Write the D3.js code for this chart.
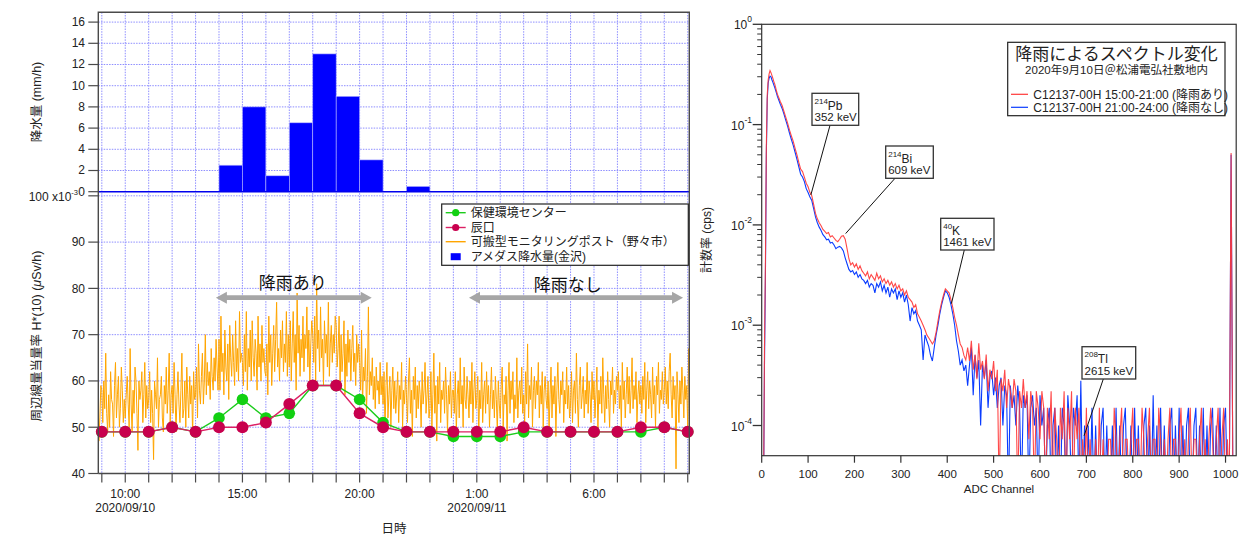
<!DOCTYPE html>
<html><head><meta charset="utf-8">
<script src="https://cdn.jsdelivr.net/npm/d3@7"></script>
<style>
body{margin:0;background:#fff}
svg{display:block;font-family:'Liberation Sans','Noto Sans CJK JP',sans-serif}
</style></head><body>
<svg id="c" width="1239" height="536"></svg>
<script>
// ---------------- DATA ----------------
// hourly precipitation (AMeDAS Kanazawa), bar starts at hour on 2020/09/10
const precipStartHours = [14,15,16,17,18,19,20,21,22];
const precipMm = [2.5,8,1.5,6.5,13,9,3,0,0.5];
// hourly station values (x10^-3 uSv/h), hour offset from 2020/09/10 00:00
const stationHours = [9,10,11,12,13,14,15,16,17,18,19,20,21,22,23,24,25,26,27,28,29,30,31,32,33,34];
const hokenCenter = [49,49,49,50,49,52,56,52,53,59,59,56,51,49,49,48,48,48,49,49,49,49,49,49,50,49];
const tatsunokuchi = [49,49,49,50,49,50,50,51,55,59,59,53,50,49,49,49,49,49,50,49,49,49,49,50,50,49];
// portable monitoring post (Nonoichi), 2.5-minute values from 08:50
const monitorStart = '2020-09-10 08:50';
const monitorStepSec = 150;
const monitorPost = [
55,47,52,59,
58,51,60,54,66,53,49,57,50,62,56,55,48,59,64,52,57,61,50,54,63,58,51,56,
52,57,61,55,50,67,55,49,58,53,63,60,53,45,60,56,58,62,51,57,64,52,59,54,
56,62,51,58,53,43,60,57,54,65,50,56,57,61,52,49,59,55,63,53,58,66,51,57,
59,53,64,57,49,57,62,55,51,58,66,52,54,60,50,63,57,52,61,55,59,48,62,56,
57,63,52,68,58,55,61,66,55,60,70,57,64,59,62,56,67,61,58,65,60,69,63,58,
69,58,74,62,66,57,71,63,60,68,56,72,65,61,70,64,59,73,62,67,60,75,64,66,
64,59,70,62,75,58,67,63,71,60,73,65,61,69,66,58,74,63,68,60,72,64,67,62,
61,68,57,74,64,70,59,66,72,62,69,77,63,67,60,71,65,73,62,68,64,75,61,70,
63,73,60,68,75,64,70,58,79,66,72,61,69,65,74,62,70,67,76,63,71,60,68,73,
70,64,74,60,81,67,71,62,76,65,69,59,73,66,70,63,77,61,68,72,64,70,66,74,
72,63,67,74,58,70,62,66,73,57,68,61,71,64,69,60,67,72,62,66,59,70,64,68,
64,58,71,55,63,60,67,53,61,76,57,62,59,65,56,61,54,63,58,60,55,64,57,61,
55,62,49,59,64,52,57,61,50,58,63,54,60,53,57,62,51,59,56,64,50,58,55,61,
57,51,60,65,53,58,48,61,56,63,52,59,54,60,57,50,62,55,58,64,53,57,61,52,
54,62,50,57,66,53,59,47,61,55,64,51,58,56,60,53,63,57,49,59,55,62,52,58,
58,53,62,49,57,60,52,65,55,59,50,63,56,54,61,57,52,60,55,64,51,58,62,54,
56,61,48,58,54,64,51,57,60,53,62,55,59,50,57,63,54,58,52,61,56,49,60,55,
52,59,63,50,57,55,61,47,58,64,53,60,56,62,51,57,54,65,52,58,60,55,63,53,
57,51,62,55,68,52,59,56,63,50,58,61,54,60,57,64,52,59,55,62,50,58,61,56,
54,60,49,57,63,52,59,55,61,48,58,64,56,53,60,57,62,51,58,55,63,54,59,52,
55,62,51,58,60,53,66,56,50,59,63,54,57,61,52,58,55,64,53,60,57,51,62,56,
60,52,57,63,49,58,55,61,53,65,57,51,59,54,62,56,50,60,57,63,53,58,55,61,
58,62,54,59,50,64,56,60,52,57,63,55,61,53,58,65,54,59,56,62,51,57,60,55,
59,53,61,56,64,51,58,62,54,60,57,52,63,55,59,50,61,57,64,53,58,56,62,55,
58,63,55,60,54,62,66,57,52,61,56,59,41,62,57,51,60,55,63,58,52,61,56,59,
50,67,55
];
const precipTicks = [0,2,4,6,8,10,12,14,16];
const doseTicks = [40,50,60,70,80,90,100];
const timeLabelHours = [10,15,20,25,30];
const timeLabels = ['10:00','15:00','20:00','1:00','6:00'];
const dateLabelHours = [10,25];
const dateLabels = ['2020/09/10','2020/09/11'];
const legendLeft = ['保健環境センター','辰口','可搬型モニタリングポスト（野々市）','アメダス降水量(金沢)'];

// gamma spectra (cps) per ADC channel
const specChannels = [...d3.range(0,41,2), ...d3.range(44,1021,4)];
const specRain = [
0,0,0,6e-4,4e-3,.06,.2,.28,.32,.345,.33,.31,.29,.27,.255,.235,.215,.2,.19,.18,.17,
.155,.135,.118,.103,.088,.077,.068,.058,.05,.042,.036,.034,.030,.026,.024,
.021,.0195,.016,.013,.0115,.0105,.0098,.009,.0086,.0082,.0084,.0076,.0078,.0074,.007,.0068,.0072,.0077,.0078,.0072,.0058,.0046,.004,.0042,.0038,
.0041,.0036,.0039,.0035,.0033,.0031,.0034,.0029,.0032,.003,.0028,.0033,.0029,.0031,.0027,.0029,.0026,.0028,.0025,.0027,.0024,.0026,.0023,.0025,.0022,
.0023,.002,.0022,.0019,.0018,.0017,.0015,.0016,.0013,.0012,.0011,.001,9e-4,8e-4,7.5e-4,7e-4,6.5e-4,7e-4,8.5e-4,.0011,.0014,.0017,.002,.0023,.0022,
.0021,.0018,.0015,.0012,.001,8e-4,6.5e-4,6e-4,5e-4,4.5e-4,6e-4,4.4e-4,7e-4,3.6e-4,5.1e-4,2.9e-4,6.6e-4,3.6e-4,4.4e-4,2.9e-4,5.1e-4,2.2e-4,3.6e-4,2.9e-4,4.4e-4,
2.2e-4,3.6e-4,0,2.9e-4,2.2e-4,3.6e-4,1.5e-4,2.9e-4,2.2e-4,1.5e-4,2.9e-4,2.2e-4,0,2.2e-4,1.5e-4,2.9e-4,1.5e-4,2.2e-4,7.3e-5,2.2e-4,1.5e-4,0,2.2e-4,1.5e-4,7.3e-5,
2.2e-4,1.5e-4,0,1.5e-4,7.3e-5,2.2e-4,0,1.5e-4,7.3e-5,0,1.5e-4,7.3e-5,2.2e-4,0,1.5e-4,7.3e-5,2.2e-4,0,1.5e-4,7.3e-5,1.5e-4,0,7.3e-5,0,1.5e-4,
0,7.3e-5,0,0,7.3e-5,0,1.5e-4,0,7.3e-5,0,0,7.3e-5,7.3e-5,0,1.5e-4,7.3e-5,0,7.3e-5,1.5e-4,0,7.3e-5,7.3e-5,0,7.3e-5,1.5e-4,
0,7.3e-5,7.3e-5,0,1.5e-4,7.3e-5,0,7.3e-5,1.5e-4,0,7.3e-5,7.3e-5,0,1.5e-4,7.3e-5,0,7.3e-5,0,7.3e-5,1.5e-4,0,7.3e-5,7.3e-5,0,7.3e-5,
1.5e-4,0,7.3e-5,0,7.3e-5,1.5e-4,0,7.3e-5,7.3e-5,0,7.3e-5,1.5e-4,0,7.3e-5,0,7.3e-5,1.5e-4,7.3e-5,0,7.3e-5,1.5e-4,0,7.3e-5,1.5e-4,0,
7.3e-5,0,.052,0,0
];
const specDry = [
0,0,0,4e-4,3e-3,.05,.18,.26,.29,.305,.3,.28,.265,.25,.235,.22,.205,.19,.18,.17,.16,
.145,.127,.11,.096,.082,.071,.062,.053,.045,.038,.032,.03,.027,.023,.021,
.019,.0175,.0145,.012,.0105,.0095,.0088,.008,.0076,.0071,.0072,.0066,.0067,.0063,.0058,.006,.0061,.0059,.0055,.0047,.0041,.0036,.0034,.0035,.0032,
.0034,.003,.0032,.0029,.0028,.0026,.0028,.0024,.0026,.0025,.0021,.0026,.0024,.0027,.0022,.0025,.0021,.0024,.0019,.0023,.0021,.0023,.0018,.0022,.0019,
.0021,.0017,.002,.0016,.0011,.0015,.0013,.0014,.0011,.001,9e-4,4.5e-4,8e-4,7e-4,6.2e-4,5e-4,4.4e-4,6e-4,8e-4,.001,.0013,.0016,.0019,.0022,.0021,
.0019,.0016,.0013,.001,7e-4,5.5e-4,4e-4,4.5e-4,3.5e-4,4e-4,2.5e-4,4e-4,6e-4,2e-4,5e-4,3e-4,4.5e-4,1e-4,4e-4,3e-4,4.5e-4,1.5e-4,3e-4,3.5e-4,2e-4,
3e-4,1.5e-4,2.5e-4,3e-4,1e-4,2.5e-4,2e-4,0,2.5e-4,1.5e-4,2e-4,1e-4,2.5e-4,1.5e-4,0,2e-4,1.5e-4,2e-4,0,1.5e-4,2e-4,1e-4,1.5e-4,0,2e-4,
1e-4,1.5e-4,0,1e-4,1.5e-4,0,1e-4,1.5e-4,0,1e-4,0,1.5e-4,1e-4,0,2e-4,1e-4,0,1.5e-4,1e-4,2e-4,0,2.8e-4,0,1e-4,0,
1e-4,0,1.5e-4,0,1e-4,0,0,1e-4,1.5e-4,0,1e-4,0,0,1e-4,0,1.5e-4,0,1e-4,0,1e-4,1.5e-4,0,0,1e-4,0,
1.5e-4,0,1e-4,0,0,1e-4,1.5e-4,0,1e-4,0,2e-4,0,1e-4,0,1.5e-4,0,1e-4,0,0,1e-4,1.5e-4,0,1e-4,0,1.5e-4,
0,1e-4,0,1e-4,1.5e-4,0,0,1e-4,1.5e-4,0,1e-4,0,1.5e-4,0,1e-4,0,1e-4,1.5e-4,0,1e-4,0,1.5e-4,0,1e-4,1.5e-4,
0,0,.05,0,0
];
const specXTicks = [0,100,200,300,400,500,600,700,800,900,1000];
const specYDecades = [-4,-3,-2,-1,0];
const peakLabels = [
  {iso:'214', el:'Pb', energy:'352 keV', ch:106, cps:0.0199},
  {iso:'214', el:'Bi', energy:'609 keV', ch:181, cps:0.0082},
  {iso:'40',  el:'K',  energy:'1461 keV', ch:409, cps:0.00164},
  {iso:'208', el:'Tl', energy:'2615 keV', ch:695, cps:7.9e-5}
];
const specLegend = ['C12137-00H 15:00-21:00 (降雨あり)','C12137-00H 21:00-24:00 (降雨なし)'];

// ---------------- LEFT CHART ----------------
const svg = d3.select('#c');
const parse = d3.timeParse('%Y-%m-%d %H:%M');
const hourTime = h => new Date(2020, 8, 10, h, 0);
const minTime = m => new Date(2020, 8, 10, 0, m);
const L = {x0: 98.3, x1: 689.3, top: 12.3, mid: 191.7, bot: 473.5};
const x = d3.scaleTime().domain([parse('2020-09-10 08:51'), parse('2020-09-11 10:04')]).range([L.x0, L.x1]);
const yP = d3.scaleLinear().domain([0, 17]).range([L.mid, 11.5]);
const yD = d3.scaleLinear().domain([40, 101]).range([L.bot, 191.2]);

const defs = svg.append('defs');
defs.append('clipPath').attr('id','clipL').append('rect')
  .attr('x',L.x0).attr('y',L.top).attr('width',L.x1-L.x0).attr('height',L.bot-L.top);

const gridC = '#7c7cff';
const grid = svg.append('g').attr('stroke', gridC).attr('stroke-width', 1).attr('stroke-dasharray','1.5,1.2').attr('opacity',0.85);
const hourTicks = x.ticks(d3.timeHour.every(1));
grid.selectAll('.v').data(hourTicks).join('line')
  .attr('x1', d=>x(d)).attr('x2', d=>x(d)).attr('y1', L.top).attr('y2', L.bot);
grid.selectAll('.hp').data(precipTicks.filter(d=>d>0)).join('line').attr('class','hp')
  .attr('x1',L.x0).attr('x2',L.x1).attr('y1',d=>yP(d)).attr('y2',d=>yP(d));
grid.selectAll('.hd').data(doseTicks.filter(d=>d>40)).join('line').attr('class','hd')
  .attr('x1',L.x0).attr('x2',L.x1).attr('y1',d=>yD(d)).attr('y2',d=>yD(d));

// orange monitoring post line
const mStart = parse(monitorStart);
const mData = monitorPost.map((v,i)=>({t: new Date(mStart.getTime() + i*monitorStepSec*1000), v}));
svg.append('path').datum(mData).attr('clip-path','url(#clipL)')
  .attr('fill','none').attr('stroke','#ffa500').attr('stroke-width',1)
  .attr('d', d3.line().x(d=>x(d.t)).y(d=>yD(d.v)));

// precipitation bars
svg.append('g').selectAll('rect').data(precipStartHours.map((h,i)=>({h, v: precipMm[i]})).filter(d=>d.v>0))
  .join('rect')
  .attr('x', d=>x(hourTime(d.h))).attr('width', d=>x(hourTime(d.h+1))-x(hourTime(d.h)))
  .attr('y', d=>yP(d.v)).attr('height', d=>yP(0)-yP(d.v))
  .attr('fill','#0000ff').attr('stroke','#b8b8ff').attr('stroke-width',0.6);
svg.append('line').attr('x1',L.x0).attr('x2',L.x1).attr('y1',yP(0)).attr('y2',yP(0))
  .attr('stroke','#0000ee').attr('stroke-width',1.4);

// station lines
function station(values, lineC, dotC, r) {
  const d = stationHours.map((h,i)=>({t: hourTime(h), v: values[i]}));
  svg.append('path').datum(d).attr('fill','none').attr('stroke',lineC).attr('stroke-width',1.4)
    .attr('d', d3.line().x(p=>x(p.t)).y(p=>yD(p.v)));
  svg.append('g').selectAll('circle').data(d).join('circle')
    .attr('cx',p=>x(p.t)).attr('cy',p=>yD(p.v)).attr('r',r).attr('fill',dotC);
}
station(hokenCenter, '#1ccc1c', '#12d012', 5.8);
station(tatsunokuchi, '#dc2064', '#c8004e', 6);

// frame and axes
const ax = svg.append('g').attr('stroke','#4a4a4a').attr('fill','none');
ax.append('path').attr('d', `M${L.x0},${L.bot} V${L.top} H${L.x1} V${L.bot} H${L.x0}`).attr('stroke-width',1.4);
ax.selectAll('.tp').data(precipTicks).join('line').attr('class','tp')
  .attr('x1',L.x0-10).attr('x2',L.x0).attr('y1',d=>yP(d)).attr('y2',d=>yP(d)).attr('stroke-width',1.2);
ax.selectAll('.td').data(doseTicks).join('line').attr('class','td')
  .attr('x1',L.x0-10).attr('x2',L.x0).attr('y1',d=>yD(d)).attr('y2',d=>yD(d)).attr('stroke-width',1.2);
ax.selectAll('.tx').data(hourTicks).join('line').attr('class','tx')
  .attr('x1',d=>x(d)).attr('x2',d=>x(d)).attr('y1',L.bot).attr('y2',L.bot+9).attr('stroke-width',1.2);

const txt = svg.append('g').attr('fill','#222').attr('font-size',12);
txt.selectAll('.lp').data(precipTicks).join('text').attr('class','lp')
  .attr('x',85).attr('y',d=>yP(d)+3.8).attr('text-anchor','end').text(d=>d);
txt.selectAll('.ld').data(doseTicks.filter(d=>d<100)).join('text').attr('class','ld')
  .attr('x',85).attr('y',d=>yD(d)+4.3).attr('text-anchor','end').text(d=>d);
const t100 = txt.append('text').attr('x',78).attr('y',yD(100)+5).attr('text-anchor','end');
t100.append('tspan').text('100 x10');
t100.append('tspan').attr('font-size',7.5).attr('dy',-5.5).text('-3');
txt.selectAll('.lx').data(timeLabelHours).join('text').attr('class','lx')
  .attr('x',d=>x(hourTime(d))).attr('y',498).attr('text-anchor','middle').text((d,i)=>timeLabels[i]);
txt.selectAll('.ldt').data(dateLabelHours).join('text').attr('class','ldt')
  .attr('x',d=>x(hourTime(d))).attr('y',511.5).attr('text-anchor','middle').text((d,i)=>dateLabels[i]);
txt.append('text').attr('x',394).attr('y',533).attr('text-anchor','middle').attr('font-size',12.5).text('日時');
txt.append('text').attr('transform','translate(41,102) rotate(-90)').attr('text-anchor','middle').attr('font-size',12.5).text('降水量 (mm/h)');
const yl = txt.append('text').attr('transform','translate(41,336) rotate(-90)').attr('text-anchor','middle').attr('font-size',12.5);
yl.append('tspan').text('周辺線量当量率 H*(10) (');
yl.append('tspan').attr('font-style','italic').text('μ');
yl.append('tspan').text('Sv/h)');

// arrows
function arrowPath(xa, xb, y) {
  const hl = 11, hw = 6, sw = 2.3;
  return `M${xa},${y} L${xa+hl},${y-hw} L${xa+hl},${y-sw} L${xb-hl},${y-sw} L${xb-hl},${y-hw} L${xb},${y} L${xb-hl},${y+hw} L${xb-hl},${y+sw} L${xa+hl},${y+sw} L${xa+hl},${y+hw} Z`;
}
const arrows = [
  {a: minTime(13*60+52), b: minTime(20*60+31), v: 78, tx: minTime(17*60+9), tv: 81.2, label: '降雨あり'},
  {a: minTime(24*60+40), b: minTime(33*60+48), v: 78, tx: minTime(28*60+53), tv: 80.7, label: '降雨なし'}
];
svg.append('g').selectAll('path').data(arrows).join('path')
  .attr('d', d=>arrowPath(x(d.a), x(d.b), yD(d.v))).attr('fill','#a6a6a6');
svg.append('g').selectAll('text').data(arrows).join('text')
  .attr('x', d=>x(d.tx)).attr('y', d=>yD(d.tv)+6).attr('text-anchor','middle')
  .attr('font-size',17).attr('fill','#111').text(d=>d.label);

// legend left
const lg = svg.append('g');
lg.append('rect').attr('x',441.7).attr('y',204).attr('width',246.6).attr('height',61.3)
  .attr('fill','#fff').attr('stroke','#222').attr('stroke-width',1.2);
const lgY = [212.7, 227.5, 241.7, 256.7];
lg.append('line').attr('x1',445.7).attr('x2',465.7).attr('y1',lgY[0]).attr('y2',lgY[0]).attr('stroke','#1ccc1c').attr('stroke-width',1.4);
lg.append('circle').attr('cx',455.7).attr('cy',lgY[0]).attr('r',3.6).attr('fill','#12d012');
lg.append('line').attr('x1',445.7).attr('x2',465.7).attr('y1',lgY[1]).attr('y2',lgY[1]).attr('stroke','#dc2064').attr('stroke-width',1.4);
lg.append('circle').attr('cx',455.7).attr('cy',lgY[1]).attr('r',3.6).attr('fill','#c8004e');
lg.append('line').attr('x1',445.7).attr('x2',465.7).attr('y1',lgY[2]).attr('y2',lgY[2]).attr('stroke','#ffa500').attr('stroke-width',1.4);
lg.append('rect').attr('x',450.7).attr('y',lgY[3]-3.5).attr('width',10).attr('height',7).attr('fill','#0000ff');
lg.selectAll('text').data(legendLeft).join('text').attr('x',470.7).attr('y',(d,i)=>lgY[i]+4.5)
  .attr('font-size',12).attr('fill','#222').text(d=>d);

// ---------------- RIGHT CHART ----------------
const R = {x0: 761.7, x1: 1236.2, top: 24.3, bot: 455.7};
const xs = d3.scaleLinear().domain([0, 1023]).range([R.x0, R.x1]);
const ys = d3.scaleLog().domain([5e-5, 1]).range([R.bot, R.top]);
defs.append('clipPath').attr('id','clipR').append('rect')
  .attr('x',R.x0).attr('y',R.top).attr('width',R.x1-R.x0).attr('height',R.bot-R.top);
const yv = v => v > 0 ? ys(v) : ys(2e-5);
const specLine = d3.line().x(d=>xs(d[0])).y(d=>yv(d[1]));
const nS = Math.min(specChannels.length, specRain.length, specDry.length);
const dryData = d3.range(nS).map(i=>[specChannels[i], specDry[i]]);
const rainData = d3.range(nS).map(i=>[specChannels[i], specRain[i]]);
svg.append('path').datum(dryData).attr('clip-path','url(#clipR)').attr('fill','none')
  .attr('stroke','#0a3cff').attr('stroke-width',1.1).attr('d',specLine);
svg.append('path').datum(rainData).attr('clip-path','url(#clipR)').attr('fill','none')
  .attr('stroke','#ff3838').attr('stroke-opacity',0.92).attr('stroke-width',1.1).attr('d',specLine);

const ra = svg.append('g').attr('stroke','#333').attr('fill','none');
ra.append('rect').attr('x',R.x0).attr('y',R.top).attr('width',R.x1-R.x0).attr('height',R.bot-R.top).attr('stroke-width',1.2);
ra.selectAll('.xt').data(specXTicks).join('line').attr('class','xt')
  .attr('x1',d=>xs(d)).attr('x2',d=>xs(d)).attr('y1',R.bot).attr('y2',R.bot+7).attr('stroke-width',1.2);
const minorY = [];
specYDecades.forEach(e=>{ for (let k=2;k<=9;k++){ const v=k*Math.pow(10,e); if (v>=5e-5 && v<=1) minorY.push(v);} });
ra.selectAll('.ymn').data(minorY).join('line').attr('class','ymn')
  .attr('x1',R.x0-4.5).attr('x2',R.x0).attr('y1',d=>ys(d)).attr('y2',d=>ys(d)).attr('stroke-width',1);
ra.selectAll('.ymj').data(specYDecades).join('line').attr('class','ymj')
  .attr('x1',R.x0-9).attr('x2',R.x0).attr('y1',d=>ys(Math.pow(10,d))).attr('y2',d=>ys(Math.pow(10,d))).attr('stroke-width',1.3);

const rt = svg.append('g').attr('fill','#222').attr('font-size',11.5);
rt.selectAll('.xl').data(specXTicks).join('text').attr('class','xl')
  .attr('x',d=>xs(d)).attr('y',478).attr('text-anchor','middle').text(d=>d);
const ylab = rt.selectAll('.yl').data(specYDecades).join('text').attr('class','yl')
  .attr('x',752).attr('y',d=>ys(Math.pow(10,d))+5).attr('text-anchor','end');
ylab.append('tspan').attr('font-size',12).text('10');
ylab.append('tspan').attr('font-size',8.5).attr('dy',-7).text(d=>d===0?'0':'-'+(-d));
rt.append('text').attr('x',(R.x0+R.x1)/2).attr('y',493).attr('text-anchor','middle').attr('font-size',11.5).text('ADC Channel');
rt.append('text').attr('transform',`translate(711,${(R.top+R.bot)/2}) rotate(-90)`).attr('text-anchor','middle').attr('font-size',12).text('計数率 (cps)');

// peak annotations
const boxes = [
  {x:812, y:93.3, w:46.7, h:32, lx:830},
  {x:885.7, y:146, w:47.6, h:32.3, lx:895},
  {x:940.7, y:218.3, w:53.3, h:31.7, lx:964.3},
  {x:1082, y:346.7, w:53.7, h:32.3, lx:1103.3}
];
peakLabels.forEach((p,i)=>{
  const b = boxes[i];
  const g = svg.append('g');
  g.append('line').attr('x1',b.lx).attr('y1',b.y+b.h).attr('x2',xs(p.ch)).attr('y2',ys(p.cps))
    .attr('stroke','#111').attr('stroke-width',1);
  g.append('rect').attr('x',b.x).attr('y',b.y).attr('width',b.w).attr('height',b.h)
    .attr('fill','#fff').attr('stroke','#333').attr('stroke-width',1.3);
  const t1 = g.append('text').attr('x',b.x+2.5).attr('y',b.y+16.5).attr('fill','#222');
  t1.append('tspan').attr('font-size',8).attr('dy',-6).text(p.iso);
  t1.append('tspan').attr('font-size',12).attr('dy',6).text(p.el);
  g.append('text').attr('x',b.x+2.5).attr('y',b.y+28).attr('font-size',11.5).attr('fill','#222').text(p.energy);
});

// right legend
const rl = svg.append('g');
rl.append('rect').attr('x',1007.7).attr('y',42.3).attr('width',217.3).attr('height',73.4)
  .attr('fill','#fff').attr('stroke','#222').attr('stroke-width',1.2);
rl.append('text').attr('x',1116.5).attr('y',59.5).attr('text-anchor','middle').attr('font-size',17).attr('fill','#222').text('降雨によるスペクトル変化');
rl.append('text').attr('x',1116.5).attr('y',74).attr('text-anchor','middle').attr('font-size',11.5).attr('fill','#222').text('2020年9月10日＠松浦電弘社敷地内');
const rlY = [94.3, 107.3];
const rlC = ['#ff3838','#0a3cff'];
rlY.forEach((yy,i)=>{
  rl.append('line').attr('x1',1011).attr('x2',1028).attr('y1',yy).attr('y2',yy).attr('stroke',rlC[i]).attr('stroke-width',1.2);
  rl.append('text').attr('x',1033.3).attr('y',yy+4.3).attr('font-size',12).attr('fill','#222').text(specLegend[i]);
});
</script>
</body></html>
